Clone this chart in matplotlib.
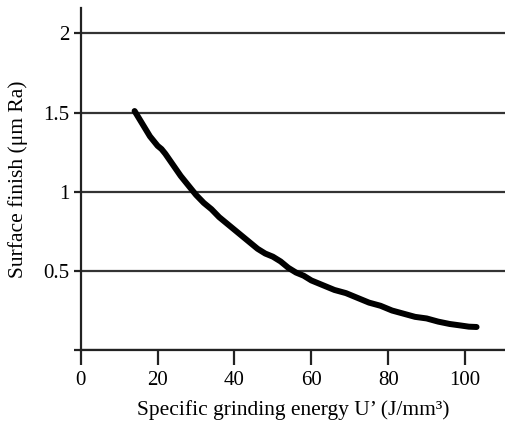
import numpy as np
import matplotlib.pyplot as plt

# values
energy = [14, 15, 16, 17, 18, 19, 20, 21, 22, 24, 26, 28, 30, 32, 34, 36, 38,
          40, 42, 44, 46, 48, 50, 52, 54, 56, 58, 60, 63, 66, 69, 72, 75, 78,
          81, 84, 87, 90, 93, 96, 99, 101, 103]
finish = [1.51, 1.47, 1.43, 1.39, 1.35, 1.32, 1.29, 1.27, 1.24, 1.17, 1.10,
          1.04, 0.98, 0.93, 0.89, 0.84, 0.80, 0.76, 0.72, 0.68, 0.64, 0.61,
          0.59, 0.56, 0.52, 0.49, 0.47, 0.44, 0.41, 0.38, 0.36, 0.33, 0.30,
          0.28, 0.25, 0.23, 0.21, 0.20, 0.18, 0.165, 0.155, 0.148, 0.146]
x_ticks = [0, 20, 40, 60, 80, 100]
y_ticks = [0, 0.5, 1, 1.5, 2]
y_labels = ["", "0.5", "1", "1.5", "2"]

plt.rcParams['font.family'] = ['Liberation Serif', 'DejaVu Serif']

fig = plt.figure(figsize=(5.05, 4.28), dpi=100)
ax = fig.add_axes([0.160, 0.182, 0.84, 0.799])

ax.plot(energy, finish, color="black", linewidth=4.3, solid_capstyle="round",
        solid_joinstyle="round")

ax.set_xlim(0, 110.4)
ax.set_ylim(0, 2.16)
ax.set_xticks(x_ticks)
ax.set_yticks(y_ticks)
ax.set_yticklabels(y_labels)
ax.yaxis.grid(True, color="#333333", linewidth=1.6)
ax.set_axisbelow(True)

for s in ["top", "right"]:
    ax.spines[s].set_visible(False)
for s in ["left", "bottom"]:
    ax.spines[s].set_linewidth(1.6)
    ax.spines[s].set_color("#222222")

ax.tick_params(axis="x", direction="out", length=11, width=1.6, color="#222222",
               labelsize=15, pad=4)
ax.tick_params(axis="y", direction="out", length=5, width=1.6, color="#222222",
               labelsize=15, pad=3)

ax.set_xlabel("Specific grinding energy U\u2019 (J/mm\u00b3)", fontsize=15.5)
ax.set_ylabel("Surface finish (\u03bcm Ra)", fontsize=15.5)
ax.xaxis.set_label_coords(0.5, -0.145)
ax.yaxis.set_label_coords(-0.125, 0.5)

plt.savefig("out.png", dpi=100)
